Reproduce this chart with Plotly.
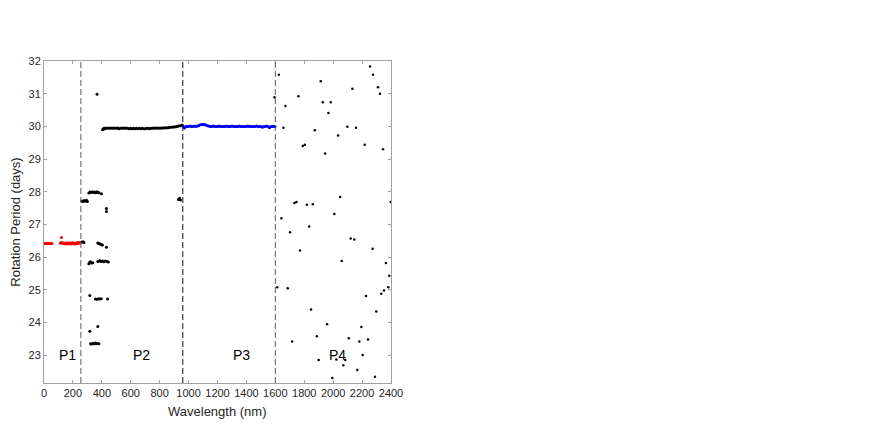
import plotly.graph_objects as go

# ---- P1 (red) ----
p1_wl = [0, 5, 10, 15, 20, 25, 30, 35, 40, 45, 50, 55,
         112, 118, 121, 125, 130, 135, 140, 145, 150, 155, 160, 165, 170, 175,
         180, 185, 190, 195, 200, 205, 210, 215, 220, 225, 230, 235, 240, 245, 250]
p1_per = [26.42, 26.42, 26.42, 26.42, 26.42, 26.42, 26.42, 26.42, 26.42, 26.42, 26.42, 26.42,
          26.43, 26.44, 26.60, 26.44, 26.43, 26.42, 26.41, 26.42, 26.43, 26.40, 26.42, 26.44, 26.41, 26.42,
          26.43, 26.40, 26.42, 26.44, 26.41, 26.43, 26.42, 26.40, 26.42, 26.44, 26.43, 26.42, 26.44, 26.45, 26.43]

# ---- P2 (black) ----
p2_wl = [262, 270, 278, 286, 294, 300, 310, 318, 326, 334, 342, 350, 358, 366, 374, 380, 397, 432, 432, 367,
         262, 270, 276, 372, 380, 388, 396, 404, 432,
         310, 316, 322, 330, 338, 372, 380, 388, 396, 404, 414, 424, 436, 445,
         317, 356, 366, 376, 386, 396, 440,
         317, 372, 322, 330, 338, 346, 354, 362, 370, 380,
         930, 938, 944,
         405, 410, 415, 420, 430, 440, 450, 460, 470, 480, 490, 500, 510, 520, 530, 540, 550, 560, 570,
         580, 590, 600, 610, 620, 630, 640, 650, 660, 670, 680, 690, 700, 710, 720, 730, 740, 750, 760,
         770, 780, 790, 800, 810, 820, 830, 840, 850, 860, 870, 880, 890, 900, 910, 920, 930, 940, 950, 956]
p2_per = [27.72, 27.70, 27.73, 27.71, 27.74, 27.70, 27.96, 27.99, 27.98, 28.00, 27.98, 27.99, 27.97, 28.00, 27.98, 27.97, 27.94, 27.49, 27.40, 30.98,
          26.46, 26.47, 26.45, 26.43, 26.42, 26.40, 26.38, 26.37, 26.30,
          25.80, 25.84, 25.86, 25.82, 25.83, 25.87, 25.88, 25.89, 25.87, 25.88, 25.86, 25.88, 25.87, 25.85,
          24.83, 24.72, 24.71, 24.73, 24.72, 24.73, 24.72,
          23.73, 23.88, 23.35, 23.34, 23.36, 23.35, 23.37, 23.35, 23.36, 23.35,
          27.76, 27.80, 27.75,
          29.90, 29.92, 29.94, 29.93, 29.95, 29.94, 29.95, 29.94, 29.95, 29.94, 29.95, 29.94, 29.95, 29.93, 29.94, 29.95, 29.94, 29.95, 29.94,
          29.94, 29.93, 29.94, 29.93, 29.94, 29.93, 29.94, 29.93, 29.94, 29.93, 29.94, 29.93, 29.93, 29.94, 29.94, 29.93, 29.94, 29.94, 29.95,
          29.94, 29.95, 29.95, 29.94, 29.95, 29.95, 29.96, 29.95, 29.96, 29.96, 29.97, 29.97, 29.98, 29.98, 29.99, 30.00, 30.01, 30.02, 30.03, 30.04]

# ---- P3 (blue) ----
p3_wl = [962, 972, 980, 990, 1000, 1010, 1020, 1030, 1040, 1050, 1060, 1070, 1080, 1090, 1100, 1110, 1120,
         1130, 1140, 1150, 1160, 1170, 1180, 1190, 1200, 1210, 1220, 1230, 1240, 1250, 1260, 1270, 1280,
         1290, 1300, 1310, 1320, 1330, 1340, 1350, 1360, 1370, 1380, 1390, 1400, 1410, 1420, 1430, 1440,
         1450, 1460, 1470, 1480, 1490, 1500, 1511, 1520, 1530, 1540, 1550, 1559, 1570, 1580, 1590, 1598]
p3_per = [30.00, 29.95, 30.00, 30.00, 30.00, 30.01, 30.00, 30.00, 30.01, 30.00, 30.01, 30.02, 30.05, 30.06, 30.05, 30.06, 30.04,
          30.02, 30.01, 30.00, 30.00, 30.01, 30.00, 30.00, 30.00, 30.01, 30.00, 30.00, 30.00, 30.00, 30.01, 30.00, 30.00,
          30.00, 30.01, 30.00, 30.00, 30.00, 30.00, 30.01, 30.00, 30.00, 30.00, 30.00, 30.00, 30.01, 30.00, 30.00, 30.00,
          30.00, 30.00, 30.01, 30.00, 30.00, 30.00, 29.97, 30.00, 30.00, 30.01, 30.00, 29.96, 30.00, 30.00, 30.00, 30.00]

# ---- P4 (scattered, black) ----
p4_wl = [1624, 1594, 1670, 1656, 1760, 1914, 1928, 1983, 1967, 1873, 2133, 2098, 2158, 2034, 2255, 2276,
         2310, 2324, 2218, 2345, 1790, 1804, 1944, 2048, 2398, 1732, 1746, 1818, 1859, 2008, 1642, 1834,
         1702, 2121, 2146, 1771, 2273, 2059, 2365, 2388, 1613, 1686, 2381, 2352, 2333, 2227, 2298, 1847,
         1958, 2195, 1887, 2108, 2241, 2181, 1716, 2204, 1900, 2022, 2084, 2070, 2167, 1994, 2289]
p4_per = [31.58, 30.89, 30.62, 29.96, 30.92, 31.38, 30.74, 30.74, 30.41, 29.88, 31.15, 29.99, 29.96, 29.72, 31.83, 31.58,
          31.20, 31.00, 29.44, 29.30, 29.40, 29.44, 29.17, 27.84, 27.69, 27.66, 27.69, 27.60, 27.62, 27.32, 27.19, 26.94,
          26.76, 26.57, 26.54, 26.20, 26.26, 25.88, 25.82, 25.43, 25.08, 25.05, 25.08, 24.98, 24.88, 24.81, 24.34, 24.40,
          23.95, 23.86, 23.58, 23.52, 23.48, 23.42, 23.42, 23.01, 22.85, 22.87, 22.85, 22.69, 22.55, 22.30, 22.34]

boundaries = [255, 960, 1600]
boundary_colors = ["#5a5a5a", "#111111", "#5a5a5a"]
region_labels = ["P1", "P2", "P3", "P4"]
region_label_x = [162, 673, 1364, 2027]
region_label_y = 23.0

FONT = "Liberation Sans, Arial, Helvetica, sans-serif"

fig = go.Figure()
fig.add_trace(go.Scatter(x=p1_wl, y=p1_per, mode="markers",
                         marker=dict(color="#ff0000", size=3, line=dict(width=0)), showlegend=False))
fig.add_trace(go.Scatter(x=p2_wl, y=p2_per, mode="markers",
                         marker=dict(color="#000000", size=3, line=dict(width=0)), showlegend=False))
fig.add_trace(go.Scatter(x=p3_wl, y=p3_per, mode="markers",
                         marker=dict(color="#0000ff", size=3, line=dict(width=0)), showlegend=False))
fig.add_trace(go.Scatter(x=p4_wl, y=p4_per, mode="markers",
                         marker=dict(color="#000000", size=2.5, line=dict(width=0)), showlegend=False))

for bx, bc in zip(boundaries, boundary_colors):
    fig.add_shape(type="line", x0=bx, x1=bx, y0=0, y1=1, xref="x", yref="paper",
                  line=dict(color=bc, width=1, dash="6px,3px"))

for lab, lx in zip(region_labels, region_label_x):
    fig.add_annotation(x=lx, y=region_label_y, text=lab, showarrow=False,
                       font=dict(family=FONT, size=14, color="#000000"))

# x-axis title placed as annotation to match the reference spacing
fig.add_annotation(x=0.5, y=0, xref="paper", yref="paper", yanchor="top", yshift=-19,
                   text="Wavelength (nm)", showarrow=False,
                   font=dict(family=FONT, size=13, color="#262626"))

axis_common = dict(showline=True, linecolor="#a0a0a0", linewidth=1, mirror="allticks",
                   ticks="inside", ticklen=3, tickcolor="#a0a0a0", showgrid=False, zeroline=False,
                   automargin=False,
                   tickfont=dict(family=FONT, size=11, color="#262626"))

fig.update_layout(
    width=872, height=427,
    margin=dict(l=35.5, r=489, t=52.5, b=52.3),
    paper_bgcolor="white", plot_bgcolor="white",
    font=dict(family=FONT),
    xaxis=dict(range=[0, 2400], tickmode="array", tickvals=list(range(0, 2401, 200)),
               **axis_common),
    yaxis=dict(range=[22.15, 32], tickmode="array", tickvals=list(range(23, 33)),
               title=dict(text="Rotation Period (days)", font=dict(family=FONT, size=13, color="#262626")),
               **axis_common),
)

fig.write_html("out.html")
